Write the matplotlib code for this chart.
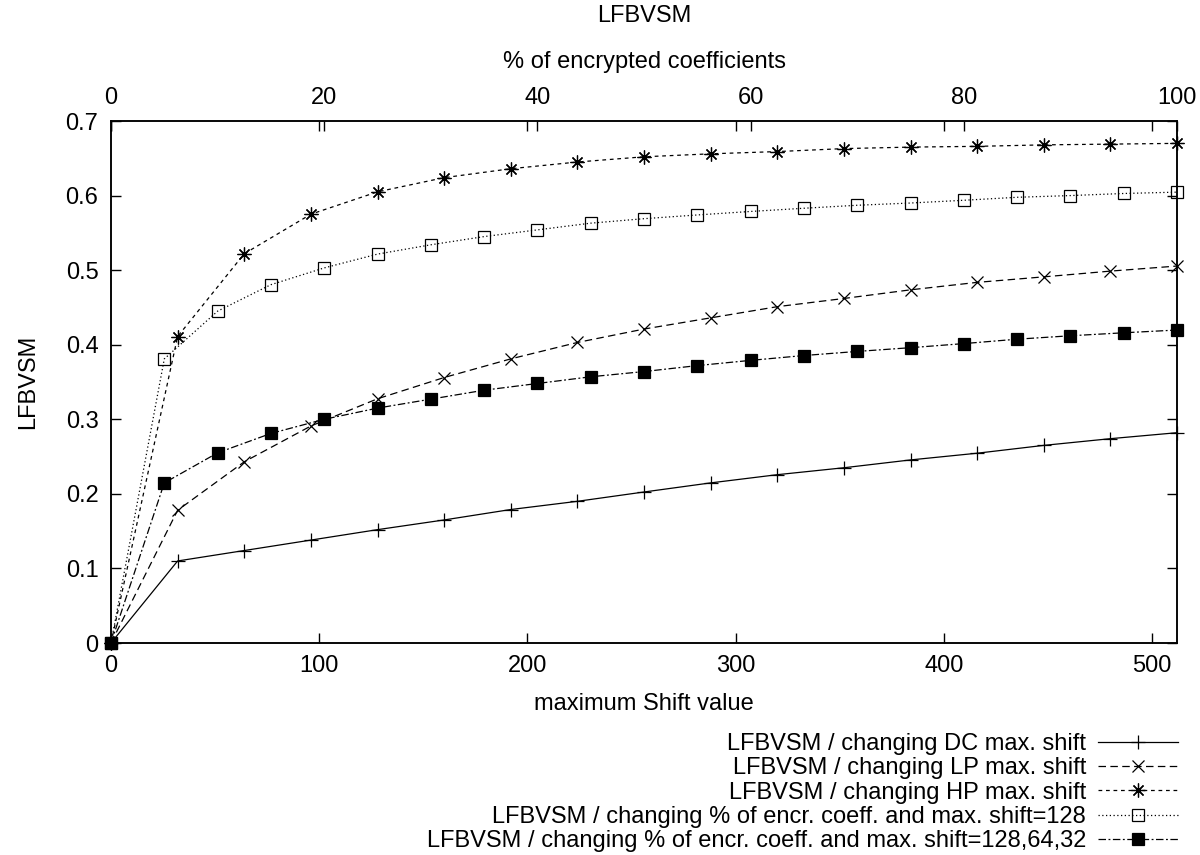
import matplotlib
matplotlib.use("Agg")
import matplotlib.pyplot as plt

plt.rcParams["font.family"] = ["Liberation Sans", "DejaVu Sans"]

# ── data ────────────────────────────────────────────────────────────────────
shift = [0, 32, 64, 96, 128, 160, 192, 224, 256, 288, 320, 352, 384, 416, 448, 480, 512]
pct = [0, 5, 10, 15, 20, 25, 30, 35, 40, 45, 50, 55, 60, 65, 70, 75, 80, 85, 90, 95, 100]

dc_shift = [0, 0.110, 0.124, 0.138, 0.152, 0.165, 0.179, 0.190, 0.2025, 0.2147,
            0.2257, 0.235, 0.2455, 0.2545, 0.265, 0.274, 0.282]
lp_shift = [0, 0.178, 0.243, 0.291, 0.3275, 0.356, 0.381, 0.403, 0.421, 0.436,
            0.451, 0.462, 0.4736, 0.4836, 0.491, 0.4987, 0.5055]
hp_shift = [0, 0.411, 0.522, 0.575, 0.605, 0.624, 0.636, 0.645, 0.652, 0.656,
            0.659, 0.663, 0.665, 0.666, 0.668, 0.669, 0.670]
pct_128 = [0, 0.381, 0.445, 0.4805, 0.503, 0.5215, 0.534, 0.545, 0.554, 0.563, 0.569,
           0.574, 0.5787, 0.583, 0.587, 0.590, 0.5937, 0.5977, 0.600, 0.6028, 0.6046]
pct_mix = [0, 0.2147, 0.255, 0.281, 0.300, 0.315, 0.327, 0.339, 0.348, 0.357, 0.364,
           0.372, 0.379, 0.3855, 0.391, 0.396, 0.4015, 0.4074, 0.412, 0.416, 0.4197]

x_ticks = [0, 100, 200, 300, 400, 500]
x2_ticks = [0, 20, 40, 60, 80, 100]
y_ticks = [0, 0.1, 0.2, 0.3, 0.4, 0.5, 0.6, 0.7]
y_labels = ["0", "0.1", "0.2", "0.3", "0.4", "0.5", "0.6", "0.7"]

labels = [
    "LFBVSM / changing DC max. shift",
    "LFBVSM / changing LP max. shift",
    "LFBVSM / changing HP max. shift",
    "LFBVSM / changing % of encr. coeff. and max. shift=128",
    "LFBVSM / changing % of encr. coeff. and max. shift=128,64,32",
]

# ── figure ──────────────────────────────────────────────────────────────────
W, H = 1200, 855
FS = 17
fig = plt.figure(figsize=(W / 100, H / 100), dpi=100)
L, R, T, B = 111, 1177, 121, 643
ax = fig.add_axes([L / W, 1 - B / H, (R - L) / W, (B - T) / H])
ax2 = ax.twiny()

LW = 0.9
common = dict(color="black", lw=LW, clip_on=False)
h1, = ax.plot(shift, dc_shift, ls="-", marker="+", ms=10, mew=LW, **common)
h2, = ax.plot(shift, lp_shift, ls=(0, (6, 3.5)), marker="x", ms=8, mew=LW, **common)
h3, = ax.plot(shift, hp_shift, ls=(0, (3, 3)), marker=(8, 2, 0), ms=10, mew=LW, **common)
h4, = ax2.plot(pct, pct_128, ls=(0, (1, 2)), marker="s", ms=9, mfc="none", mew=LW, **common)
h5, = ax2.plot(pct, pct_mix, ls=(0, (6, 2, 1.5, 2)), marker="s", ms=8.5, mfc="black", mew=LW, **common)

ax.set_xlim(0, 512)
ax.set_ylim(0, 0.7)
ax2.set_xlim(0, 100)

ax.set_xticks(x_ticks)
ax.set_yticks(y_ticks)
ax.set_yticklabels(y_labels)
ax2.set_xticks(x2_ticks)

ax.tick_params(direction="in", length=7, width=1, top=True, right=True,
               labeltop=False, labelsize=FS, pad=9)
ax2.tick_params(direction="in", length=7, width=1, labelsize=FS, pad=9)
for a in (ax, ax2):
    for sp in a.spines.values():
        sp.set_linewidth(1.1)

ax.set_xlabel("maximum Shift value", fontsize=FS, labelpad=11)
ax.set_ylabel("LFBVSM", fontsize=FS, labelpad=19)
ax2.set_xlabel("% of encrypted coefficients", fontsize=FS, labelpad=13)
fig.text((L + R) / 2 / W, 1 - 16 / H, "LFBVSM", ha="center", va="center", fontsize=FS)

leg = ax.legend([h1, h2, h3, h4, h5], labels, loc="upper right",
                bbox_to_anchor=(1178 / W, 1 - 733 / H), bbox_transform=fig.transFigure,
                frameon=False, markerfirst=False, numpoints=1, fontsize=FS,
                handlelength=3.4, handletextpad=0.5, labelspacing=0.1,
                borderpad=0, borderaxespad=0)
# right-align the entries like gnuplot's key
leg.get_children()[0].get_children()[1].get_children()[0].align = "right"

fig.savefig("out.png", dpi=100)
